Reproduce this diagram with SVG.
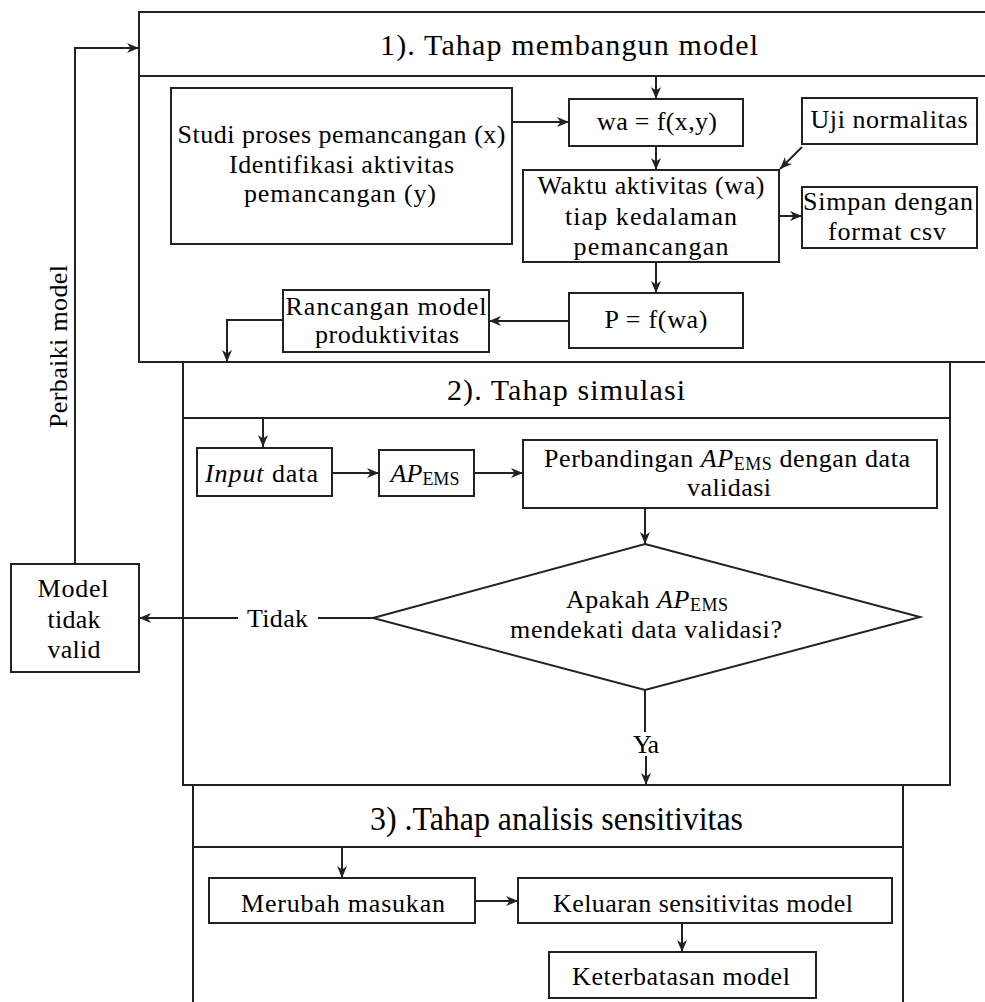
<svg xmlns="http://www.w3.org/2000/svg" width="985" height="1002" viewBox="0 0 985 1002">
  <style>
    .t { font-family: "Liberation Serif", "Times New Roman", serif; font-size: 26px; fill: #000; text-anchor: middle; }
    .ttl { font-size: 30px; }
    .it { font-style: italic; }
    .sub { font-size: 18px; font-style: normal; }
    .box { fill: #fff; stroke: #222; stroke-width: 2; }
    .frame { fill: none; stroke: #222; stroke-width: 2; }
    .ln { fill: none; stroke: #222; stroke-width: 2; }
    .arr { marker-end: url(#ah); }
  </style>
  <defs>
    <marker id="ah" viewBox="0 0 12 10" refX="12" refY="5" markerWidth="12" markerHeight="10" markerUnits="userSpaceOnUse" orient="auto">
      <path d="M0,0 L12,5 L0,10 L3.5,5 z" fill="#222"/>
    </marker>
  </defs>

  <rect width="985" height="1002" fill="#fff"/>

  <!-- stage frames -->
  <g id="stage1">
    <rect class="frame" x="139" y="12" width="880" height="350"/>
    <line class="ln" x1="139" y1="76" x2="1019" y2="76"/>
    <text class="t ttl" x="569" y="55" textLength="378">1).  Tahap membangun model</text>
  </g>
  <g id="stage2">
    <rect class="frame" x="183" y="362" width="767" height="423"/>
    <line class="ln" x1="183" y1="418" x2="950" y2="418"/>
    <text class="t ttl" x="566" y="400" textLength="238">2).  Tahap simulasi</text>
  </g>
  <g id="stage3">
    <rect class="frame" x="193" y="785" width="710" height="240"/>
    <line class="ln" x1="193" y1="847" x2="903" y2="847"/>
    <text class="t" x="556.5" y="830" style="font-size:34px" textLength="373" lengthAdjust="spacingAndGlyphs">3)  .Tahap analisis sensitivitas</text>
  </g>

  <!-- connectors -->
  <g id="connectors">
    <line class="ln arr" x1="656" y1="76" x2="656" y2="99"/>
    <line class="ln arr" x1="512" y1="122" x2="569" y2="122"/>
    <line class="ln arr" x1="656" y1="146" x2="656" y2="170"/>
    <line class="ln arr" x1="802" y1="147" x2="780" y2="169"/>
    <line class="ln arr" x1="779" y1="216" x2="802" y2="216"/>
    <line class="ln arr" x1="656" y1="262" x2="656" y2="293"/>
    <line class="ln arr" x1="569" y1="321" x2="489" y2="321"/>
    <polyline class="ln arr" points="283,320 227,320 227,362"/>
    <line class="ln arr" x1="263" y1="418" x2="263" y2="447"/>
    <line class="ln arr" x1="332" y1="473" x2="379" y2="473"/>
    <line class="ln arr" x1="474" y1="473" x2="523" y2="473"/>
    <line class="ln arr" x1="645" y1="508" x2="645" y2="544"/>
    <line class="ln" x1="373" y1="618" x2="318" y2="618"/>
    <line class="ln arr" x1="238" y1="618" x2="139" y2="618"/>
    <text class="t" x="277.5" y="627" textLength="61">Tidak</text>
    <line class="ln" x1="645" y1="690" x2="645" y2="732"/>
    <text class="t" x="646" y="753" textLength="26">Ya</text>
    <line class="ln arr" x1="646" y1="756" x2="646" y2="785"/>
    <polyline class="ln arr" points="75,564 75,48 139,48"/>
    <text class="t" transform="translate(67,346.5) rotate(-90)" textLength="163">Perbaiki model</text>
    <line class="ln arr" x1="342" y1="847" x2="342" y2="878"/>
    <line class="ln arr" x1="475" y1="901" x2="518" y2="901"/>
    <line class="ln arr" x1="682" y1="923" x2="682" y2="952"/>
  </g>

  <!-- stage 1 nodes -->
  <g id="studi">
    <rect class="box" x="171" y="88" width="341" height="156"/>
    <text class="t" x="341.5" y="143" textLength="328">Studi proses pemancangan (x)</text>
    <text class="t" x="341.5" y="173" textLength="225">Identifikasi aktivitas</text>
    <text class="t" x="340" y="202" textLength="192">pemancangan (y)</text>
  </g>
  <g id="wa">
    <rect class="box" x="569" y="99" width="174" height="47"/>
    <text class="t" x="657" y="130" textLength="120">wa = f(x,y)</text>
  </g>
  <g id="uji">
    <rect class="box" x="802" y="98" width="175" height="46"/>
    <text class="t" x="889" y="128" textLength="157">Uji normalitas</text>
  </g>
  <g id="waktu">
    <rect class="box" x="523" y="170" width="256" height="92"/>
    <text class="t" x="651" y="194" textLength="227">Waktu aktivitas (wa)</text>
    <text class="t" x="651" y="225" textLength="172">tiap kedalaman</text>
    <text class="t" x="651" y="255" textLength="155">pemancangan</text>
  </g>
  <g id="simpan">
    <rect class="box" x="802" y="187" width="175" height="61"/>
    <text class="t" x="888" y="210" textLength="170">Simpan dengan</text>
    <text class="t" x="887" y="240" textLength="118">format csv</text>
  </g>
  <g id="p">
    <rect class="box" x="569" y="293" width="174" height="55"/>
    <text class="t" x="656" y="328" textLength="103">P = f(wa)</text>
  </g>
  <g id="rancangan">
    <rect class="box" x="283" y="290" width="206" height="62"/>
    <text class="t" x="386" y="315" textLength="201">Rancangan model</text>
    <text class="t" x="387" y="343" textLength="144">produktivitas</text>
  </g>

  <!-- stage 2 nodes -->
  <g id="input">
    <rect class="box" x="197" y="448" width="135" height="48"/>
    <text class="t" x="261.5" y="482" textLength="113"><tspan class="it">Input</tspan> data</text>
  </g>
  <g id="apems">
    <rect class="box" x="379" y="450" width="95" height="46"/>
    <text class="t" x="425" y="482"><tspan class="it">AP</tspan><tspan class="sub" dy="3">EMS</tspan></text>
  </g>
  <g id="perbandingan">
    <rect class="box" x="523" y="440" width="414" height="68"/>
    <text class="t" x="727" y="467" textLength="366">Perbandingan <tspan class="it">AP</tspan><tspan class="sub" dy="3">EMS</tspan><tspan dy="-3"> dengan data</tspan></text>
    <text class="t" x="729" y="496" textLength="84">validasi</text>
  </g>
  <g id="keputusan">
    <polygon class="box" points="645,544 920,617 645,690 373,618"/>
    <text class="t" x="647" y="608" textLength="162">Apakah <tspan class="it">AP</tspan><tspan class="sub" dy="3">EMS</tspan></text>
    <text class="t" x="646" y="638" textLength="272">mendekati data validasi?</text>
  </g>
  <g id="tidak-valid">
    <rect class="box" x="11" y="564" width="128" height="108"/>
    <text class="t" x="73" y="597" textLength="71">Model</text>
    <text class="t" x="74" y="628" textLength="53">tidak</text>
    <text class="t" x="74" y="658" textLength="53">valid</text>
  </g>

  <!-- stage 3 nodes -->
  <g id="merubah">
    <rect class="box" x="209" y="878" width="266" height="45"/>
    <text class="t" x="343" y="912" textLength="204">Merubah masukan</text>
  </g>
  <g id="keluaran">
    <rect class="box" x="518" y="878" width="374" height="45"/>
    <text class="t" x="703" y="912" textLength="300">Keluaran sensitivitas model</text>
  </g>
  <g id="keterbatasan">
    <rect class="box" x="549" y="952" width="267" height="46"/>
    <text class="t" x="681" y="985" textLength="218">Keterbatasan model</text>
  </g>
</svg>
